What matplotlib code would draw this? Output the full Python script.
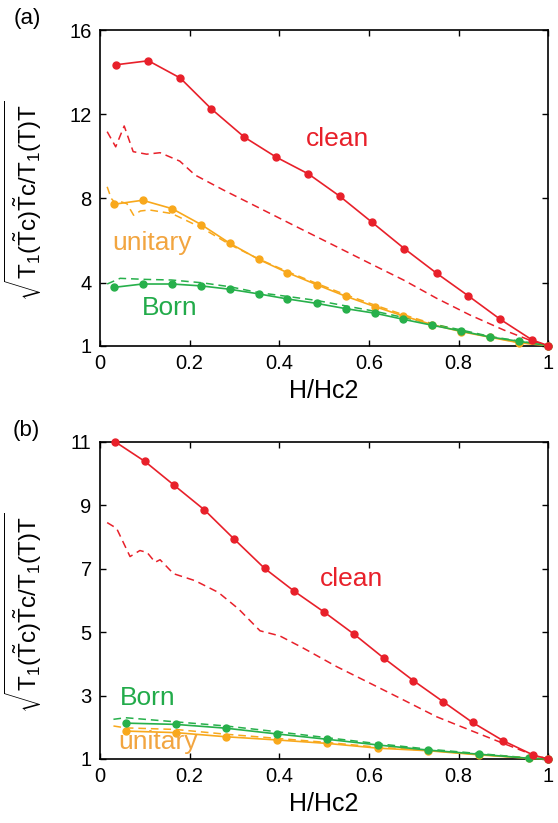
import matplotlib
matplotlib.use("Agg")
import matplotlib.pyplot as plt

plt.rcParams['font.family'] = ['Liberation Sans', 'DejaVu Sans']
plt.rcParams['mathtext.fontset'] = 'custom'
plt.rcParams['mathtext.rm'] = 'Liberation Sans'
plt.rcParams['mathtext.it'] = 'Liberation Sans:italic'

RED = '#e8202a'
ORANGE = '#f8a81c'
GREEN = '#27b04b'

# ---- panel (a) ----
clean_a_x = [0.036, 0.108, 0.179, 0.248, 0.322, 0.393, 0.465, 0.535, 0.607, 0.679, 0.751, 0.822, 0.893, 0.964, 1.0]
clean_a_y = [14.35, 14.54, 13.72, 12.26, 10.91, 9.96, 9.16, 8.10, 6.86, 5.61, 4.44, 3.36, 2.25, 1.27, 1.0]

clean_a_dx = [0.016, 0.035, 0.054, 0.074, 0.104, 0.134, 0.178, 0.212, 0.275, 0.350, 0.431, 0.528,
              0.602, 0.677, 0.751, 0.825, 0.900, 0.967, 1.0]
clean_a_dy = [11.17, 10.45, 11.44, 10.22, 10.10, 10.17, 9.77, 9.11, 8.40, 7.60, 6.73, 5.70,
              4.91, 4.12, 3.25, 2.46, 1.75, 1.19, 1.0]

imp_a_x = [0.031, 0.095, 0.161, 0.226, 0.290, 0.354, 0.418, 0.483, 0.548, 0.614, 0.677, 0.741, 0.805, 0.870, 0.934, 1.0]
unitary_a_y = [7.72, 7.91, 7.51, 6.75, 5.86, 5.10, 4.47, 3.90, 3.35, 2.85, 2.41, 2.00, 1.67, 1.40, 1.14, 1.0]
born_a_y = [3.77, 3.93, 3.93, 3.84, 3.68, 3.46, 3.22, 3.01, 2.76, 2.54, 2.25, 1.97, 1.70, 1.41, 1.21, 1.0]

unitary_a_dx = [0.016, 0.025, 0.035, 0.045, 0.060, 0.075, 0.090, 0.110, 0.160, 0.227, 0.290, 0.354,
                0.418, 0.483, 0.548, 0.614, 0.677, 0.741, 0.805, 0.870, 0.934, 1.0]
unitary_a_dy = [8.55, 8.00, 7.75, 7.85, 7.75, 7.20, 7.40, 7.45, 7.28, 6.60, 5.80, 5.12,
                4.52, 3.96, 3.42, 2.92, 2.47, 2.05, 1.70, 1.42, 1.15, 1.0]

born_a_dx = [0.016, 0.045, 0.100, 0.160, 0.227, 0.290, 0.354, 0.418, 0.483, 0.548, 0.614, 0.677,
             0.741, 0.805, 0.870, 0.934, 1.0]
born_a_dy = [3.93, 4.20, 4.15, 4.12, 3.99, 3.80, 3.52, 3.34, 3.15, 2.89, 2.63, 2.34,
             2.03, 1.75, 1.44, 1.22, 1.0]

# ---- panel (b) ----
clean_b_x = [0.0335, 0.100, 0.166, 0.233, 0.300, 0.367, 0.433, 0.500, 0.567, 0.633, 0.699, 0.765, 0.831, 0.900, 0.967, 1.0]
clean_b_y = [11.0, 10.38, 9.62, 8.85, 7.92, 7.01, 6.29, 5.63, 4.93, 4.18, 3.47, 2.81, 2.15, 1.57, 1.12, 1.0]

clean_b_dx = [0.016, 0.037, 0.067, 0.089, 0.105, 0.123, 0.134, 0.164, 0.212, 0.264, 0.309, 0.357,
              0.401, 0.454, 0.528, 0.602, 0.677, 0.751, 0.825, 0.900, 0.967, 1.0]
clean_b_dy = [8.45, 8.27, 7.38, 7.57, 7.51, 7.20, 7.28, 6.84, 6.62, 6.25, 5.73, 5.04,
              4.88, 4.49, 3.91, 3.39, 2.86, 2.33, 1.91, 1.49, 1.12, 1.0]

imp_b_x = [0.057, 0.169, 0.281, 0.394, 0.507, 0.621, 0.732, 0.846, 0.958, 1.0]
born_b_y = [2.13, 2.09, 1.97, 1.79, 1.62, 1.44, 1.28, 1.15, 1.02, 1.0]
unitary_b_y = [1.88, 1.83, 1.70, 1.60, 1.49, 1.34, 1.26, 1.13, 1.02, 1.0]

imp_b_dx = [0.030, 0.057, 0.169, 0.281, 0.394, 0.507, 0.621, 0.732, 0.846, 0.958, 1.0]
born_b_dy = [2.25, 2.30, 2.17, 2.04, 1.86, 1.67, 1.48, 1.31, 1.17, 1.03, 1.0]
unitary_b_dy = [2.04, 1.98, 1.93, 1.78, 1.65, 1.52, 1.37, 1.27, 1.14, 1.03, 1.0]

xticks = [0, 0.2, 0.4, 0.6, 0.8, 1]
xticklabels = ['0', '0.2', '0.4', '0.6', '0.8', '1']
yticks_a = [1, 4, 8, 12, 16]
yticks_b = [1, 3, 5, 7, 9, 11]

ylabel = r'$\sqrt{\mathrm{T_1(\tilde{T}c)\tilde{T}c/T_1(T)T}}$'

fig = plt.figure(figsize=(5.58, 8.23), dpi=100)
ax_a = fig.add_axes([0.1792, 0.580, 0.8034, 0.3835])
ax_b = fig.add_axes([0.1792, 0.0778, 0.8034, 0.3855])


def solid(ax, x, y, c):
    ax.plot(x, y, '-', color=c, lw=1.2, marker='o', ms=5, clip_on=False, zorder=3)


def dashed(ax, x, y, c):
    ax.plot(x, y, '--', color=c, lw=1.1, dashes=(5, 3.2), clip_on=False, zorder=2)


dashed(ax_a, clean_a_dx, clean_a_dy, RED)
dashed(ax_a, unitary_a_dx, unitary_a_dy, ORANGE)
dashed(ax_a, born_a_dx, born_a_dy, GREEN)
solid(ax_a, imp_a_x, unitary_a_y, ORANGE)
solid(ax_a, imp_a_x, born_a_y, GREEN)
solid(ax_a, clean_a_x, clean_a_y, RED)

dashed(ax_b, clean_b_dx, clean_b_dy, RED)
dashed(ax_b, imp_b_dx, unitary_b_dy, ORANGE)
dashed(ax_b, imp_b_dx, born_b_dy, GREEN)
solid(ax_b, imp_b_x, unitary_b_y, ORANGE)
solid(ax_b, imp_b_x, born_b_y, GREEN)
solid(ax_b, clean_b_x, clean_b_y, RED)

for ax, yt, ylim in [(ax_a, yticks_a, (1, 16)), (ax_b, yticks_b, (1, 11))]:
    ax.set_xlim(0, 1)
    ax.set_ylim(*ylim)
    ax.set_xticks(xticks)
    ax.set_xticklabels(xticklabels)
    ax.set_yticks(yt)
    ax.tick_params(direction='in', length=4, width=1, top=True, right=True,
                   labelsize=14.5, pad=6)
    for s in ax.spines.values():
        s.set_linewidth(1.2)
    ax.set_xlabel('H/Hc2', fontsize=18, labelpad=4)
    ax.set_ylabel(ylabel, fontsize=17.5)
    ax.yaxis.set_label_coords(-0.125, 0.46)

ax_a.text(0.53, 10.8, 'clean', color=RED, fontsize=19, ha='center', va='center')
ax_a.text(0.116, 5.9, 'unitary', color='#f2a540', fontsize=19, ha='center', va='center')
ax_a.text(0.156, 2.8, 'Born', color='#22ab4a', fontsize=19, ha='center', va='center')

ax_b.text(0.56, 6.67, 'clean', color=RED, fontsize=19, ha='center', va='center')
ax_b.text(0.106, 2.92, 'Born', color='#22ab4a', fontsize=19, ha='center', va='center')
ax_b.text(0.129, 1.54, 'unitary', color='#f2a540', fontsize=19, ha='center', va='center')

fig.text(0.025, 0.977, '(a)', fontsize=16, va='center', ha='left')
fig.text(0.022, 0.477, '(b)', fontsize=16, va='center', ha='left')

fig.savefig('out.png', dpi=100)
